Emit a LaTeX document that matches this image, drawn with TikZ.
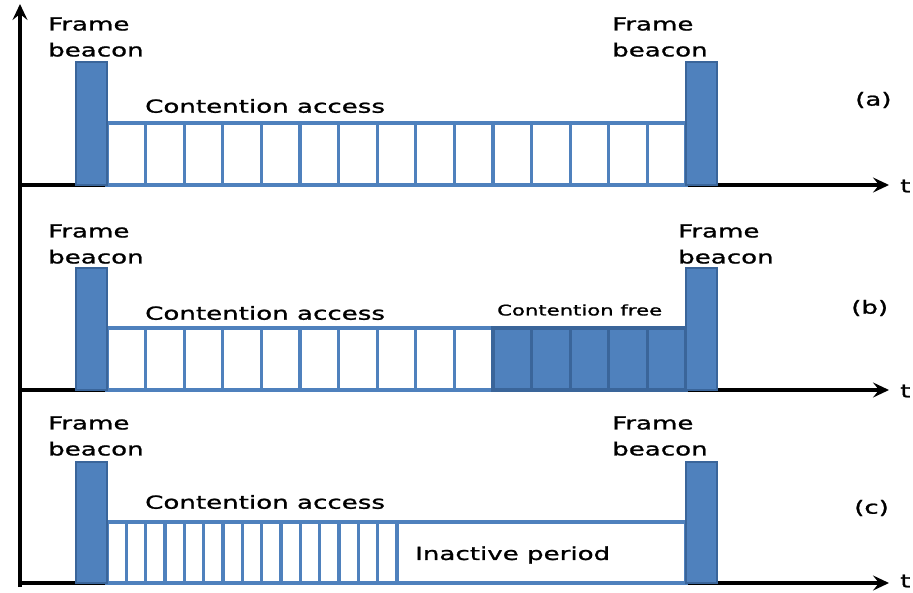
\documentclass[tikz,border=0pt]{standalone}
\usepackage{fontspec}
\usetikzlibrary{arrows.meta}
\newfontfamily\widesans{DejaVu Sans}[FakeStretch=1.45,FakeBold=1.2]
\definecolor{bblue}{HTML}{4F81BD}
\definecolor{bdark}{HTML}{3A659A}
\newcommand\bigtxt{\widesans\fontsize{18}{26}\selectfont}
\newcommand\smalltxt{\widesans\fontsize{14.6}{16}\selectfont}

\begin{document}
\begin{tikzpicture}[
		x=1pt, y=-1pt,
		axis/.style = {line width=3.2pt, -{Stealth[length=16pt,width=15pt,inset=6pt]}},
		beacon/.style = {draw=bdark, fill=bblue, line width=2.6pt},
		slot/.style = {draw=bblue, line width=3.2pt},
		cfree/.style = {draw=bdark, fill=bblue, line width=3.2pt},
		lbl/.style = {anchor=west, inner sep=0pt, align=left, font=\bigtxt}
	]
	\useasboundingbox (0,0) rectangle (913,592);

	% axes
	\coordinate (o) at (20,587);
	\coordinate (top) at (20,4);
	\draw[axis] (o) -- (top);
	\coordinate (a0) at (20,185);
	\coordinate (a1) at (889,185);
	\coordinate (b0) at (20,390);
	\coordinate (b1) at (889,390);
	\coordinate (c0) at (20,583);
	\coordinate (c1) at (889,583);
	\draw[axis] (a0) -- (a1);
	\draw[axis] (b0) -- (b1);
	\draw[axis] (c0) -- (c1);
	\node[lbl] (ta) at (900,186) {t};
	\node[lbl] (tb) at (900,391) {t};
	\node[lbl] (tc) at (900,581) {t};

	% (a) contention access only
	\foreach \i in {0,...,14}
		\draw[slot] ({107+38.6*\i},123) rectangle ++(38.6,62);
	\draw[beacon] (76,62) rectangle (107,185);
	\draw[beacon] (686,62) rectangle (717,185);
	\node[lbl] (fa1) at (48,37) {Frame\\beacon};
	\node[lbl] (fa2) at (612,37) {Frame\\beacon};
	\node[lbl] (caa) at (145,106) {Contention access};
	\node[lbl] (pa) at (855,100) {(a)};

	% (b) with contention free slots
	\foreach \i in {0,...,9}
		\draw[slot] ({107+38.6*\i},328) rectangle ++(38.6,62);
	\foreach \i in {10,...,14}
		\draw[cfree] ({107+38.6*\i},328) rectangle ++(38.6,62);
	\draw[beacon] (76,268) rectangle (107,390);
	\draw[beacon] (686,268) rectangle (717,390);
	\node[lbl] (fb1) at (48,244) {Frame\\beacon};
	\node[lbl] (fb2) at (678,244) {Frame\\beacon};
	\node[lbl] (cab) at (145,313) {Contention access};
	\node[lbl, font=\smalltxt] (cfb) at (497,310) {Contention free};
	\node[lbl] (pb) at (851,308) {(b)};

	% (c) with inactive period
	\foreach \i in {0,...,14}
		\draw[slot] ({107+19.33*\i},522) rectangle ++(19.33,61);
	\draw[slot] (397,522) rectangle (686,583);
	\draw[beacon] (76,462) rectangle (107,583);
	\draw[beacon] (686,462) rectangle (717,583);
	\node[lbl] (fc1) at (48,436) {Frame\\beacon};
	\node[lbl] (fc2) at (612,436) {Frame\\beacon};
	\node[lbl] (cac) at (145,502) {Contention access};
	\node[lbl] (ipc) at (415,555) {Inactive period};
	\node[lbl] (pc) at (854,508) {(c)};
\end{tikzpicture}
\end{document}
